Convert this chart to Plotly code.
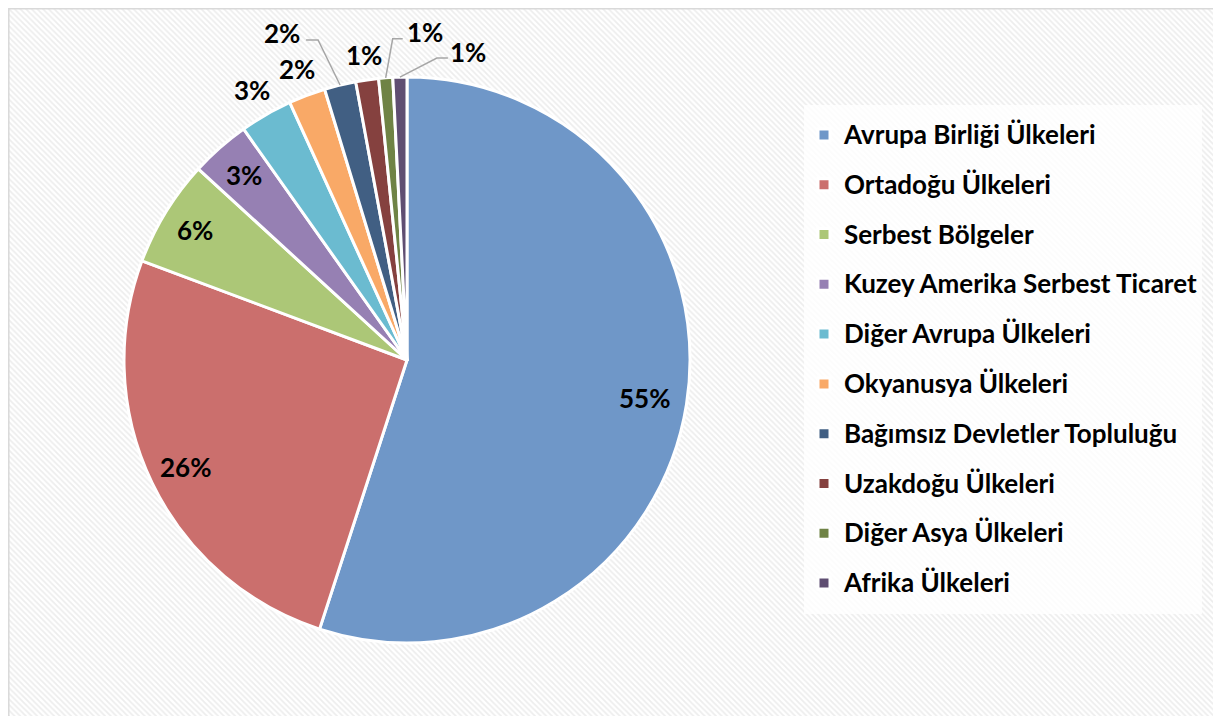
import math
import plotly.graph_objects as go

# ---------------- data ----------------
categories = [
    "Avrupa Birliği Ülkeleri",
    "Ortadoğu Ülkeleri",
    "Serbest Bölgeler",
    "Kuzey Amerika Serbest Ticaret",
    "Diğer Avrupa Ülkeleri",
    "Okyanusya Ülkeleri",
    "Bağımsız Devletler Topluluğu",
    "Uzakdoğu Ülkeleri",
    "Diğer Asya Ülkeleri",
    "Afrika Ülkeleri",
]
shares = [55.0, 25.7, 6.1, 3.4, 3.0, 2.1, 1.8, 1.3, 0.8, 0.8]

# ---------------- style ----------------
colors = ["#6F97C8", "#CB6F6D", "#ACC777", "#9680B3", "#6BBBD0",
          "#F9A967", "#415F83", "#85413F", "#6F8345", "#5F4E72"]

W, H = 1221, 716
OFF = 8                              # page offset of the figure (body margin)
CX, CY, R = 407, 360, 283            # pie centre / radius in page pixels
label_radius = [0.85, 0.87, 0.88, 0.87, 1.10, 1.10, None, 1.09, None, None]
# leader lines: elbow offset from slice edge, end offset from elbow, label offset from end
leaders = {
    6: ((-22, -45), (-12, 0), (-24, -7)),
    8: ((7, -39), (10, 0), (22, -7)),
    9: ((37, -19), (11, 0), (20, -6)),
}
FONT = "Lato"


def px(x):
    return (x - OFF) / W


def py(y):
    return 1 - (y - OFF) / H


fig = go.Figure()

# hatched chart background
fig.add_trace(go.Scatter(
    x=[0, 1, 1, 0, 0], y=[0, 0, 1, 1, 0],
    fill="toself", mode="lines", line=dict(width=0),
    fillcolor="white",
    fillpattern=dict(shape="\\", fgcolor="#dcdcdc", bgcolor="white",
                     size=4, solidity=0.45),
    hoverinfo="skip", showlegend=False,
))

legend_labels = [
    f"<span style='font-size:26px;baseline-shift:5px'>{c}</span>" for c in categories
]

fig.add_trace(go.Pie(
    labels=legend_labels,
    values=shares,
    sort=False,
    direction="clockwise",
    rotation=0,
    marker=dict(colors=colors, line=dict(color="white", width=3)),
    textinfo="none",
    hovertemplate="%{customdata}: %{percent}<extra></extra>",
    customdata=categories,
    domain=dict(x=[px(CX - R), px(CX + R)], y=[py(CY + R), py(CY - R)]),
))

# percentage labels placed from the slice angles
total = sum(shares)
annotations = []
shapes = []
cum = 0.0
for i, v in enumerate(shares):
    mid = (cum + v / 2) / total * 2 * math.pi
    cum += v
    s, c = math.sin(mid), math.cos(mid)
    text = f"{v / total:.0%}"
    if i in leaders:
        ex, ey = CX + R * s, CY - R * c
        (d1x, d1y), (d2x, d2y), (lx, ly) = leaders[i]
        bx, by = ex + d1x, ey + d1y
        fx, fy = bx + d2x, by + d2y
        shapes.append(dict(
            type="path", xref="paper", yref="paper",
            path=f"M{px(ex)},{py(ey)} L{px(bx)},{py(by)} L{px(fx)},{py(fy)}",
            line=dict(color="#a6a6a6", width=1.5),
        ))
        tx, ty = fx + lx, fy + ly
    else:
        f = label_radius[i]
        tx, ty = CX + f * R * s, CY - f * R * c
    annotations.append(dict(
        x=px(tx), y=py(ty), xref="paper", yref="paper", text=text,
        showarrow=False, xanchor="center", yanchor="middle",
        font=dict(family=FONT, size=26, color="black", weight="bold"),
    ))

# outer chart border
shapes.append(dict(type="rect", xref="paper", yref="paper",
                   x0=0.8 / W, x1=1.2, y0=-0.2, y1=1 - 0.8 / H,
                   line=dict(color="#d9d9d9", width=1.5), layer="above"))

fig.update_layout(
    width=W, height=H,
    margin=dict(l=0, r=0, t=0, b=0),
    paper_bgcolor="white",
    plot_bgcolor="rgba(0,0,0,0)",
    xaxis=dict(range=[0, 1], visible=False, domain=[0, 1], fixedrange=True),
    yaxis=dict(range=[0, 1], visible=False, domain=[0, 1], fixedrange=True),
    showlegend=True,
    legend=dict(
        x=px(804), y=py(105), xanchor="left", yanchor="top",
        bgcolor="rgba(255,255,255,0.8)",
        font=dict(family=FONT, size=36, color="black", weight="bold"),
        traceorder="normal",
    ),
    annotations=annotations,
    shapes=shapes,
)

fig.write_html("out.html")
